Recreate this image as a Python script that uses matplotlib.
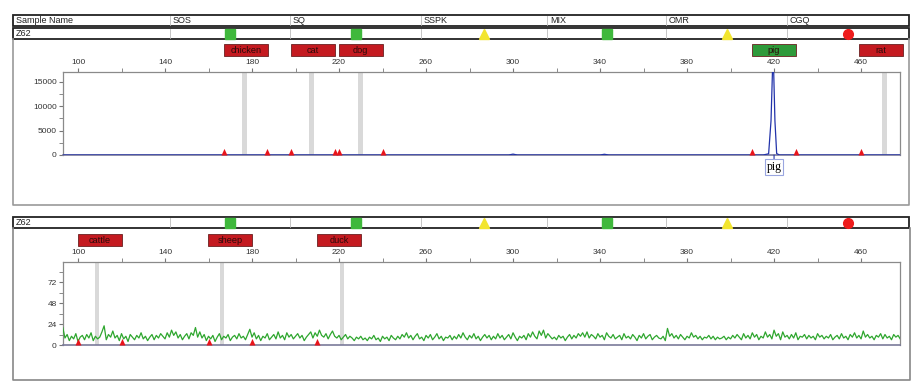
import numpy as np
import matplotlib
matplotlib.use("Agg")
import matplotlib.pyplot as plt
from matplotlib.patches import Rectangle
from matplotlib.lines import Line2D
from matplotlib.transforms import blended_transform_factory

W, H = 915, 390

# ---- data ----
sample = "Z62"
columns = ["SOS", "SQ", "SSPK", "MIX", "OMR", "CGQ"]
status_marker = ["s", "s", "^", "s", "^", "o"]
status_color = ["#3fb83c", "#3fb83c", "#f2e52e", "#3fb83c", "#f2e52e", "#ee1c1c"]

# panel 1: species bins (size), label positions and labels
bins1 = [176.5, 207.2, 229.7, 470.6]
label_pos1 = [177.3, 208.0, 229.9, 420.0, 469.2]
names1 = ["chicken", "cat", "dog", "pig", "rat"]
hits1 = [False, False, False, True, False]
ladder1 = [167, 187, 198, 218, 220, 240, 410, 430, 460]

blue_x = [93, 298, 300, 302, 340, 342, 344, 415, 417.5, 418.6, 419.3, 419.8, 420.4, 421.2, 422.5, 478]
blue_y = [0, 0, 180, 0, 0, 150, 0, 0, 250, 7000, 17600, 17600, 7000, 300, 0, 0]

# panel 2
bins2 = [108.7, 166.2, 221.4]
label_pos2 = [110.1, 169.9, 220.0]
names2 = ["cattle", "sheep", "duck"]
ladder2 = [100, 120, 160, 180, 210]

green_start = 93
green_y = [
    20, 8, 12, 5, 10, 7, 13, 4, 9, 11, 6, 12, 8, 14, 5, 10, 7, 9, 15, 22,
    6, 12, 9, 16, 8, 11, 5, 13, 7, 10, 4, 12, 9, 6, 11, 8, 14, 7, 10, 5,
    9, 12, 6, 11, 8, 13, 10, 7, 14, 9, 17, 11, 15, 8, 12, 6, 10, 13, 7, 14,
    11, 20, 9, 15, 8, 12, 5, 10, 7, 11, 4, 9, 13, 6, 10, 8, 12, 5, 9, 11,
    7, 13, 8, 10, 6, 12, 18, 9, 14, 7, 11, 5, 10, 8, 13, 6, 9, 12, 7, 15,
    8, 11, 6, 14, 9, 12, 7, 10, 13, 8, 11, 5, 9, 12, 15, 8, 14, 10, 17, 11,
    9, 13, 7, 12, 16, 10, 8, 11, 6, 9, 12, 7, 10, 8, 5, 9, 7, 10, 6, 8,
    5, 9, 7, 11, 6, 8, 4, 10, 7, 9, 5, 11, 8, 6, 10, 7, 12, 9, 14, 8,
    11, 6, 10, 13, 7, 9, 5, 11, 8, 12, 6, 9, 13, 7, 10, 5, 9, 8, 11, 6,
    10, 7, 12, 8, 14, 9, 6, 11, 8, 13, 7, 10, 5, 9, 12, 8, 11, 6, 10, 7,
    13, 8, 11, 6, 9, 12, 7, 14, 9, 5, 10, 8, 11, 6, 13, 9, 15, 10, 7, 16,
    11, 17, 8, 13, 10, 7, 9, 6, 11, 8, 10, 5, 9, 12, 7, 11, 8, 13, 10, 14,
    9, 15, 8, 12, 10, 7, 13, 9, 11, 6, 14, 10, 8, 12, 7, 9, 11, 6, 13, 8,
    10, 7, 12, 9, 5, 11, 8, 13, 7, 10, 12, 6, 9, 11, 8, 7, 10, 5, 19, 10,
    13, 8, 11, 7, 12, 9, 6, 10, 8, 14, 9, 11, 7, 10, 6, 9, 8, 11, 7, 10,
    6, 9, 7, 8, 10, 6, 9, 7, 11, 8, 12, 9, 6, 13, 8, 11, 7, 14, 9, 12,
    6, 10, 8, 15, 9, 12, 7, 17, 10, 13, 6, 15, 9, 11, 7, 12, 8, 14, 6, 10,
    9, 12, 7, 11, 8, 10, 6, 13, 9, 11, 7, 10, 8, 12, 6, 9, 11, 7, 13, 8,
    10, 6, 12, 9, 14, 8, 11, 7, 16, 9, 12, 8, 10, 6, 11, 9, 13, 7, 12, 8,
    10, 6, 12, 9, 11, 7,
]
green_x = green_start + np.arange(len(green_y))

XLIM = (93.1, 477.9)

fig = plt.figure(figsize=(W / 100, H / 100), dpi=100)
plt.rcParams["font.family"] = ["Liberation Sans", "DejaVu Sans"]


def fr(x0, y0, x1, y1, **kw):
    # rectangle given in pixel coords (y from top)
    r = Rectangle((x0 / W, 1 - y1 / H), (x1 - x0) / W, (y1 - y0) / H,
                  transform=fig.transFigure, **kw)
    fig.add_artist(r)


def fl(xs, ys, **kw):
    fig.add_artist(Line2D([x / W for x in xs], [1 - y / H for y in ys],
                          transform=fig.transFigure, **kw))


col_edges = [13, 170, 290, 421, 547, 666, 787, 909]


def header_row(y0, y1, label, with_titles=False):
    fr(col_edges[0], y0, col_edges[-1], y1, fill=False, ec="#222222", lw=1.3)
    for xe in col_edges[1:-1]:
        fl([xe, xe], [y0 + 1, y1 - 1], color="#bbbbbb", lw=0.6)
    fig.text((col_edges[0] + 3) / W, 1 - (y0 + y1) / 2 / H, label,
             fontsize=6.5, va="center", ha="left", color="#222222")
    for i, c in enumerate(columns):
        x0, x1 = col_edges[i + 1], col_edges[i + 2]
        if with_titles:
            fig.text((x0 + 3) / W, 1 - (y0 + y1) / 2 / H, c, fontsize=6.5,
                     va="center", ha="left", color="#222222")
        else:
            fig.add_artist(Line2D([(x0 + x1) / 2 / W], [1 - (y0 + y1 + 1) / 2 / H],
                                  marker=status_marker[i], ms=7,
                                  color=status_color[i], mec=status_color[i], ls="none",
                                  transform=fig.transFigure))


# header rows
header_row(15, 26, "Sample Name", with_titles=True)
header_row(28, 39, sample)
header_row(217, 228, sample)

# panel frames
fl([13, 13, 909, 909], [39, 205, 205, 39], color="#999999", lw=1.2)
fl([13, 13, 910, 910], [228, 380, 380, 228], color="#888888", lw=1.2)

base_tri = [(-1, 0), (1, 0), (0, 2.2)]


def setup_axes(top, bottom):
    ax = fig.add_axes([63 / W, 1 - bottom / H, (900 - 63) / W, (bottom - top) / H])
    ax.set_xlim(*XLIM)
    ax.xaxis.tick_top()
    ax.set_xticks(np.arange(100, 461, 40))
    ax.set_xticks(np.arange(120, 478, 40), minor=True)
    ax.tick_params(axis="both", which="both", direction="out", length=3,
                   color="#777777", labelsize=6, labelcolor="#333333", pad=1.5)
    for s in ax.spines.values():
        s.set_color("#8a8a8a")
        s.set_linewidth(0.9)
    ax.spines["bottom"].set_color("#7a7a9a")
    ax.spines["bottom"].set_linewidth(1.2)
    return ax


def species_boxes(ax, pos, names, y_top, colors):
    tr = blended_transform_factory(ax.transData, fig.transFigure)
    for b, n, c in zip(pos, names, colors):
        ax.add_patch(Rectangle((b - 10.1, 1 - (y_top + 12) / H), 20.2, 12 / H,
                               transform=tr, fc=c, ec="#6a2020", lw=0.6, clip_on=False))
        ax.text(b, 1 - (y_top + 6.3) / H, n, transform=tr, ha="center", va="center",
                fontsize=6.6, color="#2a0a0a", clip_on=False)


# ---- panel 1 ----
ax1 = setup_axes(72, 155)
ax1.set_ylim(0, 17000)
ax1.set_yticks([0, 5000, 10000, 15000])
ax1.set_yticks(np.arange(2500, 17000, 2500), minor=True)
for b in bins1:
    ax1.axvspan(b - 1.1, b + 1.1, color="#d9d9d9", lw=0, zorder=0)
ax1.plot(blue_x, blue_y, color="#2233aa", lw=0.9, zorder=3)
ax1.scatter(ladder1, np.zeros(len(ladder1)), marker=base_tri, s=90, color="#e8141b",
            lw=0, zorder=4, clip_on=False)
species_boxes(ax1, label_pos1, names1, 44,
              ["#2e9a3a" if h else "#c41a20" for h in hits1])
ax1.annotate("pig", xy=(label_pos1[hits1.index(True)], 0), xytext=(0, -12),
             textcoords="offset pixels", ha="center", va="center",
             family=["Liberation Serif", "DejaVu Serif"], fontsize=8.5,
             bbox=dict(boxstyle="square,pad=0.15", fc="white", ec="#9aa6e0", lw=0.8),
             arrowprops=dict(arrowstyle="-", color="#2233aa", lw=0.8, shrinkA=0, shrinkB=0))

# ---- panel 2 ----
ax2 = setup_axes(262, 345)
ax2.set_ylim(0, 95)
ax2.set_yticks([0, 24, 48, 72])
ax2.set_yticks([12, 36, 60, 84], minor=True)
for b in bins2:
    ax2.axvspan(b - 1.1, b + 1.1, color="#d9d9d9", lw=0, zorder=0)
ax2.plot(green_x, green_y, color="#2ea62e", lw=0.9, zorder=3)
ax2.scatter(ladder2, np.zeros(len(ladder2)), marker=base_tri, s=90, color="#e8141b",
            lw=0, zorder=4, clip_on=False)
species_boxes(ax2, label_pos2, names2, 234, ["#c41a20"] * len(bins2))

fig.savefig("out.png", dpi=100)
